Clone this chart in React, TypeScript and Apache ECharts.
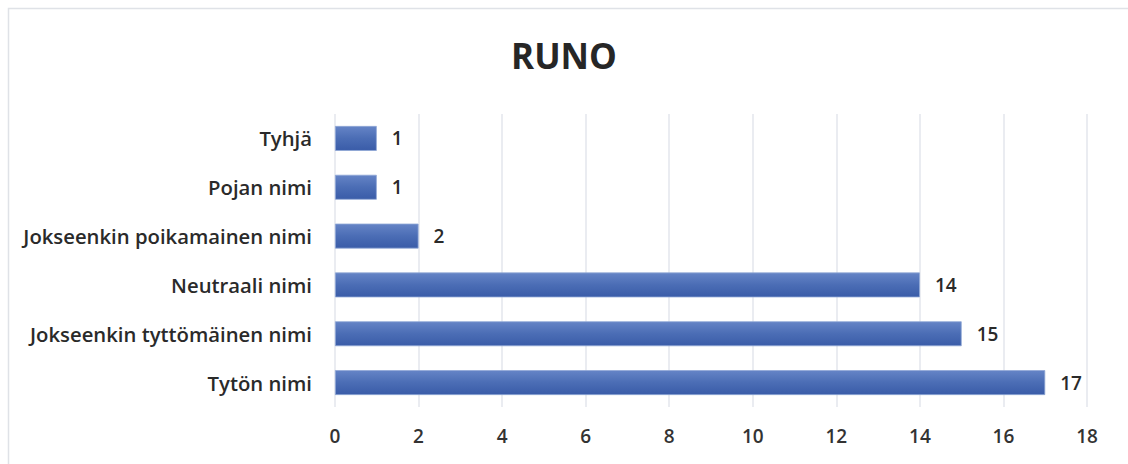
import React, { useEffect, useRef } from "react";
import * as echarts from "echarts";

const categories = [
  "Tytön nimi",
  "Jokseenkin tyttömäinen nimi",
  "Neutraali nimi",
  "Jokseenkin poikamainen nimi",
  "Pojan nimi",
  "Tyhjä",
];
const values = [17, 15, 14, 2, 1, 1];
const title = "RUNO";

export default function App() {
  const ref = useRef<HTMLDivElement>(null);
  useEffect(() => {
    if (!ref.current) return;
    const chart = echarts.init(ref.current, null, { renderer: "svg" });
    const font = "'Open Sans', 'Noto Sans', sans-serif";
    chart.setOption({
      animation: false,
      backgroundColor: "#ffffff",
      title: {
        text: title,
        left: "center",
        top: 33,
        textStyle: { fontSize: 35, fontWeight: "bold", color: "#262626", fontFamily: font },
      },
      graphic: [
        {
          type: "rect",
          shape: { x: 8.5, y: 8.5, width: 1130, height: 470 },
          style: { fill: "none", stroke: "#dfe2e7", lineWidth: 1.5 },
          silent: true,
        },
      ],
      grid: { left: 335, right: 41, top: 114, bottom: 57 },
      xAxis: {
        type: "value",
        min: 0,
        max: 18,
        interval: 2,
        axisLine: { show: false },
        axisTick: { show: false },
        splitLine: { show: true, lineStyle: { color: "#e3e6ec", width: 1.5 } },
        axisLabel: { fontSize: 19, fontWeight: 600, color: "#333333", fontFamily: font, margin: 19 },
      },
      yAxis: {
        type: "category",
        data: categories,
        axisLine: { show: false },
        axisTick: { show: false },
        axisLabel: { fontSize: 20.3, fontWeight: 600, color: "#2a2a2a", fontFamily: font, margin: 23 },
      },
      series: [
        {
          type: "bar",
          data: values,
          barWidth: "51%",
          itemStyle: {
            color: new echarts.graphic.LinearGradient(0, 0, 0, 1, [
              { offset: 0, color: "#6584c6" },
              { offset: 0.5, color: "#4b6db5" },
              { offset: 1, color: "#3a5ca8" },
            ]),
            borderColor: "#8fa7d6",
            borderWidth: 0.8,
          },
          label: {
            show: true,
            position: "right",
            distance: 15,
            fontSize: 19,
            fontWeight: 600,
            color: "#2a2a2a",
            fontFamily: font,
          },
        },
      ],
    });
    return () => chart.dispose();
  }, []);
  return (
    <div
      ref={ref}
      style={{ position: "fixed", left: 0, top: 0, width: 1128, height: 464 }}
    />
  );
}
